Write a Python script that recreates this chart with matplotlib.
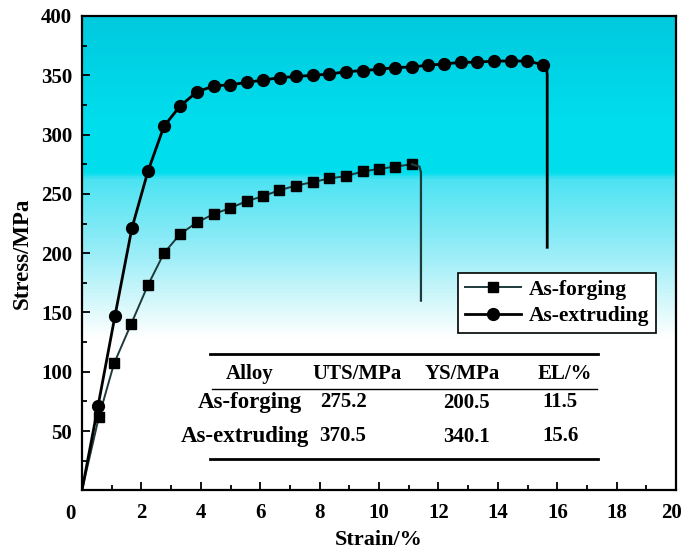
import numpy as np
import matplotlib
matplotlib.use('Agg')
import matplotlib.pyplot as plt
import matplotlib.transforms as mtransforms
from matplotlib.colors import LinearSegmentedColormap
from matplotlib.ticker import MultipleLocator

strain_ext = [0.0, 0.54, 1.11, 1.68, 2.22, 2.76, 3.30, 3.87, 4.44, 4.98, 5.56,
              6.09, 6.67, 7.21, 7.78, 8.32, 8.89, 9.46, 10.0, 10.54, 11.11,
              11.65, 12.19, 12.76, 13.30, 13.87, 14.44, 14.98, 15.52]
stress_ext = [0, 71, 147, 221, 269, 307, 324, 336, 341, 342, 344,
              346, 348, 349, 350, 351, 353, 354, 355, 356.5, 357,
              358.5, 359.5, 361, 361, 362, 362, 362, 359]
drop_ext_strain = [15.52, 15.64, 15.66, 15.66]
drop_ext_stress = [359, 356, 350, 205]

strain_forg = [0.0, 0.57, 1.08, 1.65, 2.22, 2.76, 3.30, 3.87, 4.44, 4.98, 5.56,
               6.09, 6.63, 7.21, 7.78, 8.32, 8.89, 9.46, 10.0, 10.54, 11.11]
stress_forg = [0, 62, 107, 140, 173, 200, 216, 226, 233, 238, 244,
               248, 253, 257, 260, 263, 265, 269, 271, 273, 275]
drop_forg_strain = [11.11, 11.36, 11.41, 11.41]
drop_forg_stress = [275, 273, 268, 160]

# table contents
alloys = ['As-forging', 'As-extruding']
uts = ['275.2', '370.5']
ys = ['200.5', '340.1']
el = ['11.5', '15.6']

plt.rcParams['font.family'] = ['Liberation Serif', 'DejaVu Serif']
plt.rcParams['font.weight'] = 'bold'

fig = plt.figure(figsize=(6.83, 5.51), dpi=100)
ax = fig.add_axes([0.120, 0.110, 0.870, 0.861])

# background gradient, cyan at the top fading to white
grad_cmap = LinearSegmentedColormap.from_list('bg', [
    (0.0, (1, 1, 1)),
    (128 / 400, (1, 1, 1)),
    (150 / 400, (0.88, 0.98, 0.99)),
    (200 / 400, (0.60, 0.93, 0.97)),
    (262 / 400, (0.30, 0.89, 0.95)),
    (268 / 400, (0.0, 0.87, 0.93)),
    (310 / 400, (0.0, 0.87, 0.93)),
    (1.0, (0.0, 0.79, 0.87)),
])
grad = np.linspace(0, 1, 400).reshape(-1, 1)
ax.imshow(grad, cmap=grad_cmap, origin='lower', aspect='auto',
          extent=[0, 20, 0, 400], zorder=0)

ax.plot(strain_forg, stress_forg, '-', color='#1e3a3a', lw=1.4,
        marker='s', ms=7, mfc='black', mec='black', markevery=range(1, len(strain_forg)),
        label='As-forging', zorder=3)
ax.plot(drop_forg_strain, drop_forg_stress, '-', color='#1e3a3a', lw=1.6, zorder=3)
ax.plot(strain_ext, stress_ext, '-', color='black', lw=2.0,
        marker='o', ms=8.5, mfc='black', mec='black', markevery=range(1, len(strain_ext)),
        label='As-extruding', zorder=3)
ax.plot(drop_ext_strain, drop_ext_stress, '-', color='black', lw=2.0, zorder=3)

ax.set_xlim(0, 20)
ax.set_ylim(0, 400)
ax.xaxis.set_minor_locator(MultipleLocator(1))
ax.yaxis.set_minor_locator(MultipleLocator(25))
ax.set_xticks(range(2, 21, 2))
ax.set_yticks([50, 100, 150, 200, 250, 300, 350, 400])
ax.tick_params(which='both', direction='in', width=1.3, labelsize=15)
ax.tick_params(which='major', length=6)
ax.tick_params(which='minor', length=3.5)
ax.tick_params(axis='x', pad=9)
ax.tick_params(axis='y', pad=7)
for s in ax.spines.values():
    s.set_linewidth(1.6)

# pull the "20" label in so it stays inside the figure
last = ax.get_xticklabels()[-1]
last.set_transform(last.get_transform() + mtransforms.ScaledTranslation(-5 / 100, 0, fig.dpi_scale_trans))

ax.set_xlabel('Strain/%', fontsize=16, fontweight='bold', labelpad=5)
ax.set_ylabel('Stress/MPa', fontsize=16.5, fontweight='bold', labelpad=6)
ax.text(-0.4, -11.5, '0', ha='center', va='top', fontsize=15, fontweight='bold')

leg = ax.legend(loc='upper left', bbox_to_anchor=(0.633, 0.458), fontsize=15.5,
                frameon=True, fancybox=False, edgecolor='black', framealpha=1,
                handlelength=2.6, borderpad=0.3, labelspacing=0.3, handletextpad=0.4,
                borderaxespad=0)
leg.get_frame().set_linewidth(1.2)

# property table
tx = lambda px: (px - 82) / 29.7
ty = lambda py: (491 - py) / 1.1825
ax.plot([tx(210), tx(598)], [ty(355), ty(355)], color='black', lw=2.0, zorder=4)
ax.plot([tx(212), tx(597)], [ty(390), ty(390)], color='black', lw=1.0, zorder=4)
ax.plot([tx(210), tx(598)], [ty(460), ty(460)], color='black', lw=2.0, zorder=4)
headers = ['Alloy', 'UTS/MPa', 'YS/MPa', 'EL/%']
head_x = [250, 357, 462, 565]
for h, x in zip(headers, head_x):
    ax.text(tx(x), ty(375), h, ha='center', va='center', fontsize=15, fontweight='bold')
row_y = [403, 437]
row_x = [250, 245]
for i in range(len(alloys)):
    ax.text(tx(row_x[i]), ty(row_y[i]), alloys[i], ha='center', va='center', fontsize=16.5, fontweight='bold')
    ax.text(tx(343), ty(row_y[i]), uts[i], ha='center', va='center', fontsize=15, fontweight='bold')
    ax.text(tx(466), ty(row_y[i] + 1), ys[i], ha='center', va='center', fontsize=15, fontweight='bold')
    ax.text(tx(560), ty(row_y[i]), el[i], ha='center', va='center', fontsize=15, fontweight='bold')

fig.savefig('out.png', dpi=100)
